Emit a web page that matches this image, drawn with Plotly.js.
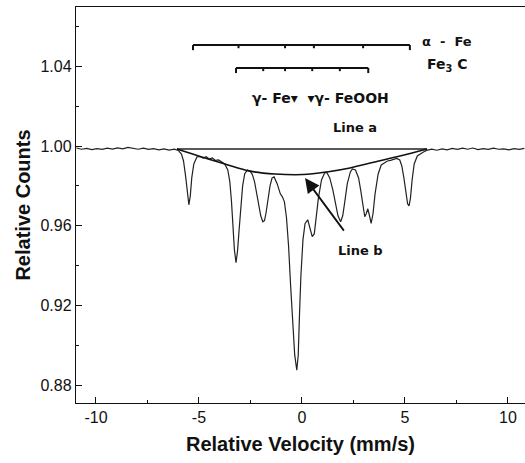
<!DOCTYPE html>
<html>
<head>
<meta charset="utf-8">
<script src="https://cdn.plot.ly/plotly-3.0.1.min.js"></script>
<style>html,body{margin:0;padding:0;background:#fff;}#chart{width:525px;height:463px;}</style>
</head>
<body>
<div id="chart"></div>
<script>
// Measured spectrum (relative velocity mm/s, relative counts)
const velocity = [
 -10.95,-10.7,-10.45,-10.2,-9.95,-9.7,-9.45,-9.2,-8.95,-8.7,-8.45,-8.2,-7.95,-7.7,-7.45,-7.2,-6.95,-6.7,-6.45,-6.2,-6.0,
 -5.85,-5.75,-5.65,-5.57,-5.49,-5.42,-5.35,-5.25,-5.1,-4.95,-4.8,-4.65,-4.5,-4.35,-4.2,-4.05,-3.9,-3.75,
 -3.6,-3.5,-3.42,-3.35,-3.28,-3.2,-3.13,-3.05,-2.97,-2.88,-2.78,-2.65,-2.5,-2.4,
 -2.3,-2.2,-2.1,-2.0,-1.9,-1.82,-1.75,-1.65,-1.55,-1.45,-1.35,-1.2,-1.05,-0.95,-0.85,
 -0.75,-0.65,-0.55,-0.45,-0.35,-0.25,-0.18,-0.12,-0.05,0.05,0.15,0.28,0.4,0.5,0.6,0.7,0.8,0.95,1.1,1.2,
 1.35,1.5,1.62,1.75,1.88,1.98,2.08,2.2,2.35,2.45,2.6,2.75,
 2.85,2.95,3.05,3.12,3.2,3.28,3.36,3.45,3.55,3.7,3.85,4.0,4.15,4.3,4.45,4.6,4.75,4.85,4.95,5.05,5.13,5.2,5.27,5.35,5.45,5.6,5.75,5.9,6.05,
 6.3,6.55,6.8,7.05,7.3,7.55,7.8,8.05,8.3,8.55,8.8,9.05,9.3,9.55,9.8,10.05,10.3,10.55,10.8
];
const counts = [
 0.9990,0.9984,0.9988,0.9982,0.9987,0.9983,0.9989,0.9985,0.9991,0.9986,0.9993,0.9988,0.9984,0.9989,0.9983,0.9987,0.9981,0.9986,0.9980,0.9984,0.9978,
 0.9960,0.9925,0.9850,0.9760,0.9705,0.9750,0.9840,0.9910,0.9945,0.9948,0.9940,0.9947,0.9935,0.9940,0.9928,0.9930,0.9918,0.9910,
 0.9880,0.9820,0.9720,0.9600,0.9480,0.9415,0.9470,0.9580,0.9700,0.9800,0.9860,0.9880,0.9873,0.9855,
 0.9820,0.9760,0.9700,0.9650,0.9620,0.9625,0.9660,0.9730,0.9800,0.9840,0.9845,0.9810,0.9760,0.9745,0.9720,
 0.9640,0.9500,0.9300,0.9100,0.8950,0.8875,0.8950,0.9150,0.9350,0.9530,0.9610,0.9630,0.9580,0.9545,0.9560,0.9640,0.9740,0.9830,0.9865,0.9868,
 0.9840,0.9780,0.9710,0.9650,0.9620,0.9650,0.9720,0.9810,0.9870,0.9885,0.9880,0.9840,
 0.9780,0.9700,0.9645,0.9660,0.9685,0.9650,0.9612,0.9660,0.9760,0.9860,0.9905,0.9915,0.9925,0.9928,0.9935,0.9938,0.9930,0.9900,0.9840,0.9760,0.9710,0.9700,0.9740,0.9830,0.9910,0.9950,0.9962,0.9970,0.9978,
 0.9984,0.9979,0.9986,0.9981,0.9988,0.9983,0.9989,0.9984,0.9990,0.9982,0.9987,0.9983,0.9989,0.9984,0.9986,0.9981,0.9987,0.9983,0.9988
];
// Line a (flat baseline) and Line b (envelope)
const lineAVel = [-6.07, 6.07];
const lineACounts = [0.9985, 0.9985];
const lineBVel = [-6.07,-4.95,-3.74,-2.52,-1.31,0.05,1.21,2.33,3.54,4.76,6.07];
const lineBCounts = [0.9985,0.9948,0.9910,0.9874,0.9860,0.9857,0.9870,0.9890,0.9920,0.9950,0.9985];
// Stick diagrams of component line positions
const alphaFeLines = [-5.29,-3.08,-0.82,0.58,2.97,5.24];
const alphaFeLevel = 1.0507;
const fe3cLines = [-3.2,-1.88,-0.82,0.5,1.84,3.22];
const fe3cLevel = 1.0392;
const xTickVals = [-10,-5,0,5,10];
const xTickText = ['-10','-5','0','5','10'];
const yTickVals = [0.88,0.92,0.96,1.00,1.04];
const yTickText = ['0.88','0.92','0.96','1.00','1.04'];

function stickTrace(lines, level){
  const TL = 0.0016;
  const xs = [lines[0], lines[lines.length-1], null];
  const ys = [level, level, null];
  lines.forEach(function(v, i){
    const len = (i===0 || i===lines.length-1) ? TL*1.6 : TL;
    xs.push(v, v, null);
    ys.push(level, level-len, null);
  });
  return {x: xs, y: ys, mode:'lines', line:{color:'#111', width:2}, hoverinfo:'skip', showlegend:false};
}

const traces = [
  {x: velocity, y: counts, mode:'lines', line:{color:'#222', width:1.2}, showlegend:false},
  {x: lineAVel, y: lineACounts, mode:'lines', line:{color:'#222', width:1.4}, showlegend:false},
  {x: lineBVel, y: lineBCounts, mode:'lines', line:{color:'#111', width:1.6, shape:'spline'}, showlegend:false},
  stickTrace(alphaFeLines, alphaFeLevel),
  stickTrace(fe3cLines, fe3cLevel)
];

const annFam = 'DejaVu Sans, Verdana, sans-serif';
const axFam = 'Liberation Sans, Arial, sans-serif';
const layout = {
  width:525, height:463,
  margin:{l:76, r:0, t:7, b:60},
  paper_bgcolor:'#fff', plot_bgcolor:'#fff',
  font:{family:axFam, color:'#111'},
  showlegend:false,
  xaxis:{
    range:[-10.97, 10.83], showline:true, linecolor:'#111', linewidth:1.2, mirror:true,
    tickmode:'array', tickvals:xTickVals, ticktext:xTickText, ticks:'inside', ticklen:6, tickcolor:'#111',
    minor:{dtick:2.5, tick0:0, ticks:'inside', ticklen:3, tickcolor:'#111'},
    showgrid:false, zeroline:false,
    tickfont:{size:16, family:axFam, color:'#111'},
    title:{text:'<b>Relative Velocity (mm/s)</b>', font:{size:20, family:axFam, color:'#111'}, standoff:11}
  },
  yaxis:{
    range:[0.871, 1.0698], showline:true, linecolor:'#111', linewidth:1.2, mirror:false,
    tickmode:'array', tickvals:yTickVals, ticktext:yTickText, ticks:'inside', ticklen:6, tickcolor:'#111',
    minor:{dtick:0.02, tick0:0.88, ticks:'inside', ticklen:3, tickcolor:'#111'},
    showgrid:false, zeroline:false,
    tickfont:{size:16, family:axFam, color:'#111'},
    title:{text:'<b>Relative Counts</b>', font:{size:20, family:axFam, color:'#111'}, standoff:4}
  },
  annotations:[
    {x:7.04, y:1.0527, xref:'x', yref:'y', text:'<b>α  -  Fe</b>', showarrow:false, font:{family:annFam, size:13, color:'#111'}},
    {x:7.04, y:1.0405, xref:'x', yref:'y', text:'<b>Fe<sub>3</sub> C</b>', showarrow:false, font:{family:annFam, size:14, color:'#111'}},
    {x:0.92, y:1.024, xref:'x', yref:'y', text:'<b>γ- Fe▾  ▾γ- FeOOH</b>', showarrow:false, font:{family:annFam, size:14, color:'#111'}},
    {x:2.57, y:1.0095, xref:'x', yref:'y', text:'<b>Line a</b>', showarrow:false, font:{family:annFam, size:13, color:'#111'}},
    {x:2.85, y:0.9478, xref:'x', yref:'y', text:'<b>Line b</b>', showarrow:false, font:{family:annFam, size:13, color:'#111'}},
    {x:0.15, y:0.9839, xref:'x', yref:'y', ax:2.09, ay:0.9568, axref:'x', ayref:'y', text:'', showarrow:true, arrowhead:2, arrowsize:1.6, arrowwidth:1.8, arrowcolor:'#111'}
  ]
};
Plotly.newPlot('chart', traces, layout, {staticPlot:true, displayModeBar:false});
</script>
</body>
</html>
